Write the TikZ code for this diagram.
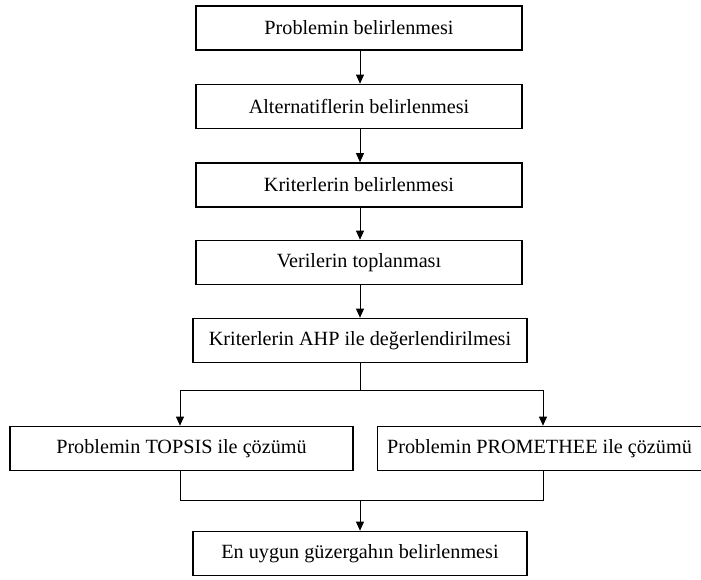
\documentclass[tikz,border=0pt]{standalone}
\usepackage{fontspec}
\setmainfont{Liberation Serif}
\usetikzlibrary{arrows.meta}
\begin{document}
\begin{tikzpicture}[x=1pt,y=-1pt,
  box/.style={draw,line width=1.7pt,minimum height=44pt,inner sep=0pt,font=\fontsize{20.2}{22}\selectfont},
  wide/.style={minimum width=326pt},
  conn/.style={line width=0.8pt},
  arr/.style={conn,-{Triangle[length=9pt,width=8pt]}}]
\useasboundingbox (0,0) rectangle (701,579);
\node[box,wide] (b1) at (359,28) {Problemin belirlenmesi};
\node[box,wide] (b2) at (359,106.5) {Alternatiflerin belirlenmesi};
\node[box,wide] (b3) at (359,185) {Kriterlerin belirlenmesi};
\node[box,wide] (b4) at (359,262.5) {Verilerin toplanması};
\node[box,minimum width=334pt] (b5) at (360,340.5) {Kriterlerin AHP ile değerlendirilmesi};
\node[box,minimum width=343pt] (b6) at (181.5,448.5) {Problemin TOPSIS ile çözümü};
\node[box,minimum width=324pt] (b7) at (539.5,448.5) {Problemin PROMETHEE ile çözümü};
\node[box,minimum width=334pt] (b8) at (360,553.5) {En uygun güzergahın belirlenmesi};
\coordinate (s1) at (360,390);
\coordinate (s2) at (360,500);
\draw[arr] (b1.south -| s1) -- (b2.north -| s1);
\draw[arr] (b2.south -| s1) -- (b3.north -| s1);
\draw[arr] (b3.south -| s1) -- (b4.north -| s1);
\draw[arr] (b4.south -| s1) -- (b5.north -| s1);
\draw[conn] (b5.south -| s1) -- (s1);
\draw[arr] (s1) -| ([xshift=-1.5pt]b6.north);
\draw[arr] (s1) -| ([xshift=3.5pt]b7.north);
\draw[conn] ([xshift=-1.5pt]b6.south) |- (s2);
\draw[conn] ([xshift=3.5pt]b7.south) |- (s2);
\draw[arr] (s2) -- (b8.north -| s2);
\end{tikzpicture}
\end{document}
